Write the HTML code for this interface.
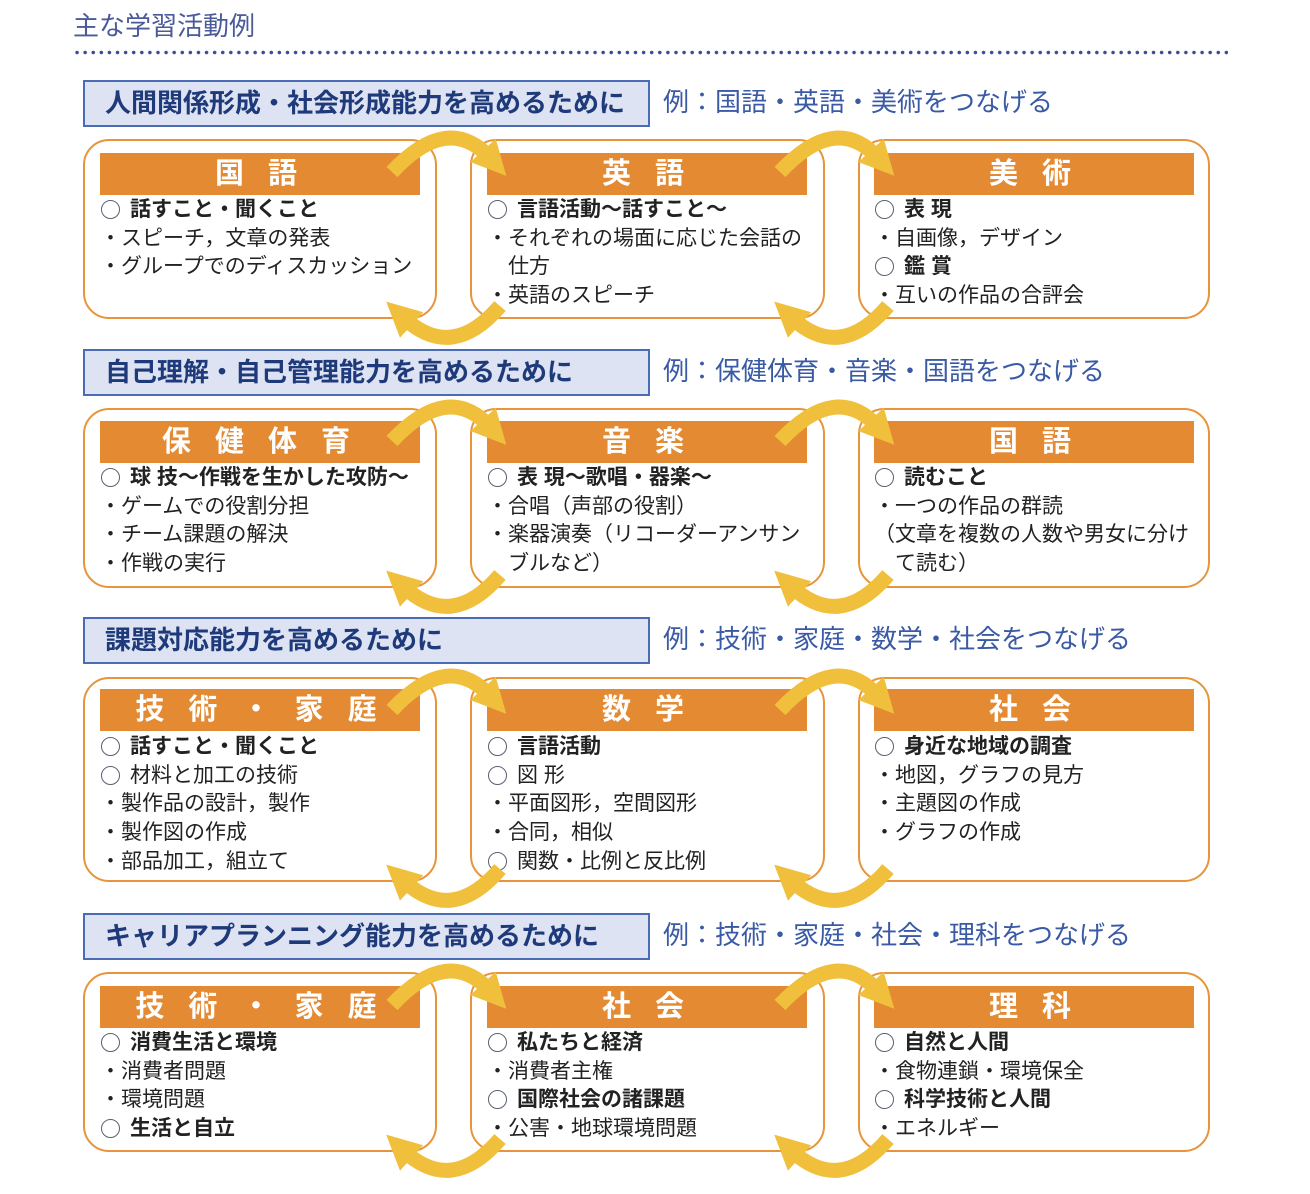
<!DOCTYPE html>
<html><head><meta charset="utf-8">
<style>
*{margin:0;padding:0;box-sizing:border-box}
body{width:1310px;height:1194px;background:#fff;position:relative;overflow:hidden;font-family:"Liberation Sans","Noto Sans CJK JP",sans-serif;color:#222}
.abs{position:absolute}
.title{left:73px;top:6px;font-size:26px;color:#4a5a9a}
.dots{left:73px;top:50px;width:1155px;height:5px;background-image:radial-gradient(circle,#3c4d9c 1.6px,transparent 2px);background-size:8.1px 5px}
.sec{left:83px;width:567px;height:47px;background:#dde3f2;border:2px solid #4a6cb5;font-size:26px;font-weight:bold;color:#1f3a7a;padding-left:20px;line-height:43px;white-space:nowrap}
.ex{left:663px;font-size:26px;color:#3a5aa5;line-height:43px;white-space:nowrap}
.pan{border:2px solid #e8943a;border-radius:26px;background:#fff}
.bar{height:42px;background:#e38a33;color:#fff;font-size:29px;font-weight:bold;text-align:center;line-height:42px;letter-spacing:8px}
.txt{font-size:21px;line-height:28.7px;white-space:nowrap}
.txt b{font-weight:bold}
.c{display:inline-block;width:19px;height:19px;border:1.6px solid #5a6070;border-radius:50%;vertical-align:-3px;margin-right:10px;margin-left:1px}
</style></head><body>
<div class="abs title">主な学習活動例</div>
<div class="abs dots"></div>

<div class="abs sec" style="top:80px">人間関係形成・社会形成能力を高めるために</div>
<div class="abs ex" style="top:81px">例：国語・英語・美術をつなげる</div>
<div class="abs pan" style="left:83px;top:139px;width:354px;height:180px"></div>
<div class="abs pan" style="left:470px;top:139px;width:355px;height:180px"></div>
<div class="abs pan" style="left:858px;top:139px;width:352px;height:180px"></div>
<div class="abs bar" style="left:100px;top:153px;width:320px">国 語</div>
<div class="abs bar" style="left:487px;top:153px;width:320px">英 語</div>
<div class="abs bar" style="left:874px;top:153px;width:320px">美 術</div>
<div class="abs txt" style="left:100px;top:196px"><span class="c"></span><b>話すこと・聞くこと</b><br>・スピーチ，文章の発表<br>・グループでのディスカッション</div>
<div class="abs txt" style="left:487px;top:196px"><span class="c"></span><b>言語活動～話すこと～</b><br>・それぞれの場面に応じた会話の<br>　仕方<br>・英語のスピーチ</div>
<div class="abs txt" style="left:874px;top:196px"><span class="c"></span><b>表 現</b><br>・自画像，デザイン<br><span class="c"></span><b>鑑 賞</b><br>・互いの作品の合評会</div>

<div class="abs sec" style="top:349px">自己理解・自己管理能力を高めるために</div>
<div class="abs ex" style="top:350px">例：保健体育・音楽・国語をつなげる</div>
<div class="abs pan" style="left:83px;top:408px;width:354px;height:180px"></div>
<div class="abs pan" style="left:470px;top:408px;width:355px;height:180px"></div>
<div class="abs pan" style="left:858px;top:408px;width:352px;height:180px"></div>
<div class="abs bar" style="left:100px;top:421px;width:320px">保 健 体 育</div>
<div class="abs bar" style="left:487px;top:421px;width:320px">音 楽</div>
<div class="abs bar" style="left:874px;top:421px;width:320px">国 語</div>
<div class="abs txt" style="left:100px;top:464px"><span class="c"></span><b>球 技～作戦を生かした攻防～</b><br>・ゲームでの役割分担<br>・チーム課題の解決<br>・作戦の実行</div>
<div class="abs txt" style="left:487px;top:464px"><span class="c"></span><b>表 現～歌唱・器楽～</b><br>・合唱（声部の役割）<br>・楽器演奏（リコーダーアンサン<br>　ブルなど）</div>
<div class="abs txt" style="left:874px;top:464px"><span class="c"></span><b>読むこと</b><br>・一つの作品の群読<br>（文章を複数の人数や男女に分け<br>　て読む）</div>

<div class="abs sec" style="top:617px">課題対応能力を高めるために</div>
<div class="abs ex" style="top:618px">例：技術・家庭・数学・社会をつなげる</div>
<div class="abs pan" style="left:83px;top:677px;width:354px;height:205px"></div>
<div class="abs pan" style="left:470px;top:677px;width:355px;height:205px"></div>
<div class="abs pan" style="left:858px;top:677px;width:352px;height:205px"></div>
<div class="abs bar" style="left:100px;top:689px;width:320px">技 術 ・ 家 庭</div>
<div class="abs bar" style="left:487px;top:689px;width:320px">数 学</div>
<div class="abs bar" style="left:874px;top:689px;width:320px">社 会</div>
<div class="abs txt" style="left:100px;top:733px"><span class="c"></span><b>話すこと・聞くこと</b><br><span class="c"></span>材料と加工の技術<br>・製作品の設計，製作<br>・製作図の作成<br>・部品加工，組立て</div>
<div class="abs txt" style="left:487px;top:733px"><span class="c"></span><b>言語活動</b><br><span class="c"></span>図 形<br>・平面図形，空間図形<br>・合同，相似<br><span class="c"></span>関数・比例と反比例</div>
<div class="abs txt" style="left:874px;top:733px"><span class="c"></span><b>身近な地域の調査</b><br>・地図，グラフの見方<br>・主題図の作成<br>・グラフの作成</div>

<div class="abs sec" style="top:913px">キャリアプランニング能力を高めるために</div>
<div class="abs ex" style="top:914px">例：技術・家庭・社会・理科をつなげる</div>
<div class="abs pan" style="left:83px;top:972px;width:354px;height:180px"></div>
<div class="abs pan" style="left:470px;top:972px;width:355px;height:180px"></div>
<div class="abs pan" style="left:858px;top:972px;width:352px;height:180px"></div>
<div class="abs bar" style="left:100px;top:986px;width:320px">技 術 ・ 家 庭</div>
<div class="abs bar" style="left:487px;top:986px;width:320px">社 会</div>
<div class="abs bar" style="left:874px;top:986px;width:320px">理 科</div>
<div class="abs txt" style="left:100px;top:1029px"><span class="c"></span><b>消費生活と環境</b><br>・消費者問題<br>・環境問題<br><span class="c"></span><b>生活と自立</b></div>
<div class="abs txt" style="left:487px;top:1029px"><span class="c"></span><b>私たちと経済</b><br>・消費者主権<br><span class="c"></span><b>国際社会の諸課題</b><br>・公害・地球環境問題</div>
<div class="abs txt" style="left:874px;top:1029px"><span class="c"></span><b>自然と人間</b><br>・食物連鎖・環境保全<br><span class="c"></span><b>科学技術と人間</b><br>・エネルギー</div>

<svg class="abs" style="left:0;top:0" width="1310" height="1194">
<defs>
<marker id="ah" viewBox="0 0 10 10" refX="3" refY="5" markerWidth="2.3" markerHeight="2.4" orient="auto">
<path d="M0,0 L10,5 L0,10 z" fill="#f0bf3c"/>
</marker>
</defs>
<g fill="none" stroke="#f0bf3c" stroke-width="15" marker-end="url(#ah)">
<path d="M392,172 Q448,112 490,158"/>
<path d="M780,172 Q836,112 878,158"/>
<path d="M500,306 Q452,362 404,318"/>
<path d="M888,306 Q840,362 792,318"/>
<path d="M392,441 Q448,381 490,427"/>
<path d="M780,441 Q836,381 878,427"/>
<path d="M500,575 Q452,631 404,587"/>
<path d="M888,575 Q840,631 792,587"/>
<path d="M392,710 Q448,650 490,696"/>
<path d="M780,710 Q836,650 878,696"/>
<path d="M500,869 Q452,925 404,881"/>
<path d="M888,869 Q840,925 792,881"/>
<path d="M392,1005 Q448,945 490,991"/>
<path d="M780,1005 Q836,945 878,991"/>
<path d="M500,1139 Q452,1195 404,1151"/>
<path d="M888,1139 Q840,1195 792,1151"/>
</g>
</svg>
</body></html>
